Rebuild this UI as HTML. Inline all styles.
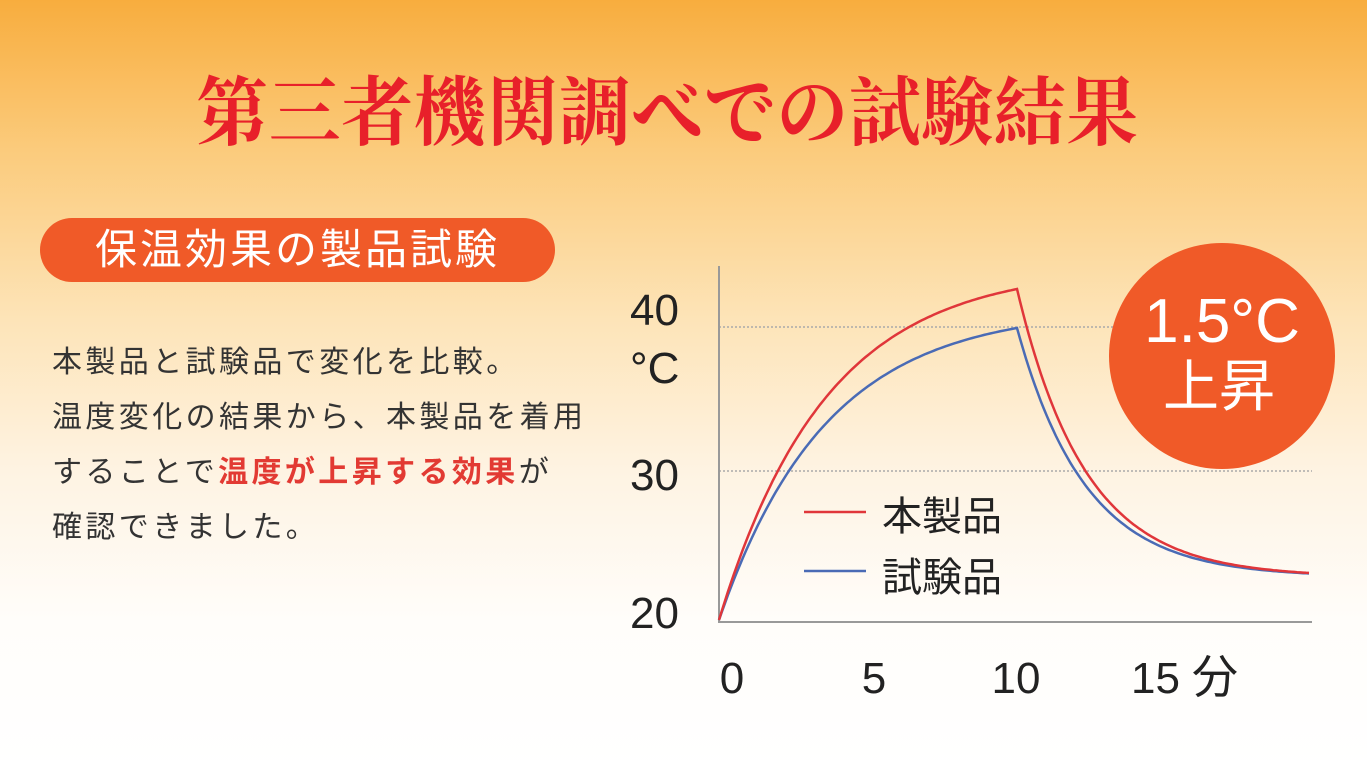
<!DOCTYPE html>
<html><head><meta charset="utf-8"><style>
html,body{margin:0;padding:0;}
body{width:1367px;height:769px;overflow:hidden;position:relative;
background:linear-gradient(to bottom,#f8ad3e 0px,#fbcb7c 150px,#fde4b8 320px,#fef3e2 470px,#fffdfa 620px,#ffffff 769px);
font-family:"Liberation Sans","Noto Sans CJK JP",sans-serif;}
.title{position:absolute;left:-16px;width:1367px;top:64px;text-align:center;color:#e8202a;
font-family:"Liberation Serif","Noto Serif CJK SC",serif;font-weight:bold;font-size:72px;letter-spacing:0.5px;line-height:100px;transform:scaleY(1.05);}
.pill{position:absolute;left:40px;top:218px;width:515px;height:64px;border-radius:32px;background:#f05a28;color:#fff;
font-size:42px;line-height:64px;text-indent:55px;letter-spacing:3px;}
.body{position:absolute;left:52px;top:335px;font-size:30px;line-height:55px;color:#333;letter-spacing:3.4px;}
.body b{color:#e23a33;}
svg{position:absolute;left:0;top:0;}
</style></head><body>
<div class="title">第三者機関調べでの試験結果</div>
<div class="pill">保温効果の製品試験</div>
<div class="body">本製品と試験品で変化を比較。<br>温度変化の結果から、本製品を着用<br>することで<b>温度が上昇する効果</b>が<br>確認できました。</div>
<svg width="1367" height="769" id="s">
<line x1="719" y1="327" x2="1312" y2="327" stroke="#aaa" stroke-width="1.5" stroke-dasharray="2,2"/>
<line x1="719" y1="471" x2="1312" y2="471" stroke="#aaa" stroke-width="1.5" stroke-dasharray="2,2"/>
<line x1="719" y1="266" x2="719" y2="622" stroke="#999" stroke-width="2"/>
<line x1="718" y1="622" x2="1312" y2="622" stroke="#999" stroke-width="2"/>
<circle cx="1222" cy="356" r="113" fill="#f05a28"/>
<text x="1222" y="342" fill="#fff" font-size="62" text-anchor="middle" font-family="Liberation Sans,Noto Sans CJK JP,sans-serif">1.5°C</text>
<text x="1219" y="406" fill="#fff" font-size="56" text-anchor="middle" font-family="Liberation Sans,Noto Sans CJK JP,sans-serif">上昇</text>
<path id="blue" fill="none" stroke="#4a6bb5" stroke-width="2.5"/>
<path id="red" fill="none" stroke="#e0363a" stroke-width="2.5"/>
<g font-family="Liberation Sans,Noto Sans CJK JP,sans-serif" fill="#222">
<text x="630" y="325" font-size="44">40</text>
<text x="630" y="383" font-size="44">°C</text>
<text x="630" y="490" font-size="44">30</text>
<text x="630" y="628" font-size="44">20</text>
<text x="732" y="693" font-size="44" text-anchor="middle">0</text>
<text x="874" y="693" font-size="44" text-anchor="middle">5</text>
<text x="1016" y="693" font-size="44" text-anchor="middle">10</text>
<text x="1131" y="693" font-size="44">15</text>
<text x="1192" y="693" font-size="46">分</text>
<text x="882" y="530" font-size="40">本製品</text>
<text x="882" y="591" font-size="40">試験品</text>
</g>
<line x1="804" y1="512" x2="866" y2="512" stroke="#e0363a" stroke-width="2.5"/>
<line x1="804" y1="571" x2="866" y2="571" stroke="#4a6bb5" stroke-width="2.5"/>
</svg>
<script>
function mk(peak){var pts=[],x0=719,sx=29.8,tau=3.6,A=(620-peak)/(1-Math.exp(-10/tau));
for(var t=0;t<=10;t+=0.1){pts.push([x0+t*sx,620-A*(1-Math.exp(-t/tau))]);}
pts.push([1017,peak]);
for(var t=10;t<=19.9;t+=0.1){pts.push([x0+t*sx,577-(577-peak)*Math.exp(-(t-10)/2.3)]);}
return 'M'+pts.map(function(p){return p[0].toFixed(1)+','+p[1].toFixed(1)}).join(' L');}
document.getElementById('red').setAttribute('d',mk(289));
document.getElementById('blue').setAttribute('d',mk(328));
</script>
</body></html>
